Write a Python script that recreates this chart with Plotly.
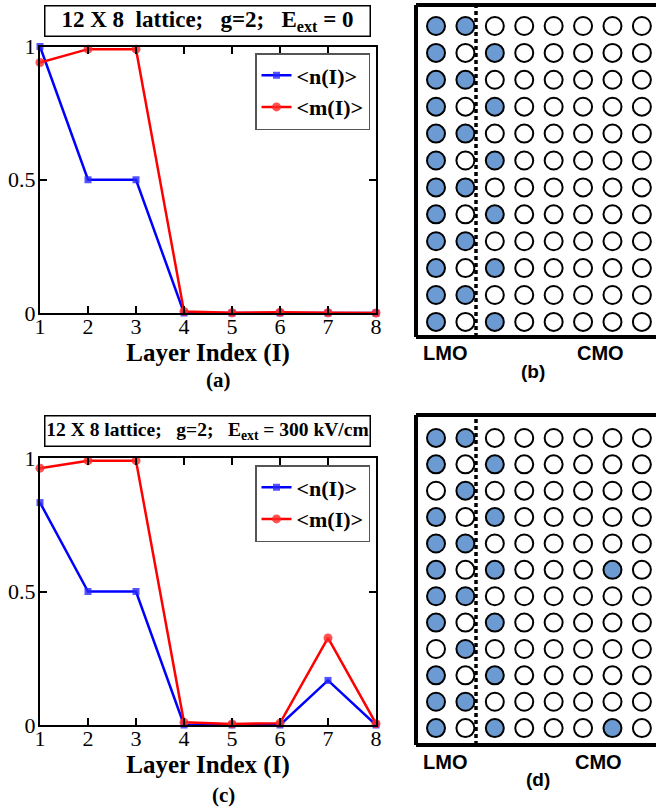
import plotly.graph_objects as go

# ---------------- data ----------------
layer_index = [1, 2, 3, 4, 5, 6, 7, 8]
n_a = [1.0, 0.5, 0.5, 0.0, 0.0, 0.0, 0.0, 0.0]
m_a = [0.94, 0.99, 0.99, 0.006, 0.001, 0.003, 0.001, 0.0]
n_c = [0.833, 0.5, 0.5, 0.0, 0.0, 0.0, 0.167, 0.0]
m_c = [0.962, 0.99, 0.99, 0.01, 0.004, 0.007, 0.326, 0.005]

# lattice occupancy (rows top->bottom, 8 columns; 1 = filled)
lattice_b = [
    "11000000", "10100000", "11000000", "10100000",
    "11000000", "10100000", "11000000", "10100000",
    "11000000", "10100000", "11000000", "10100000",
]
lattice_d = [
    "11000000", "10100000", "01000000", "10100000",
    "11000000", "10100010", "11000000", "10100000",
    "01000000", "10100000", "11000000", "10100010",
]

W, H = 656, 810
SERIF = "Liberation Serif, Times New Roman, serif"
SANS = "Liberation Sans, Arial, sans-serif"
FILL = "#6b9bd2"


def px(x):
    return x / W


def py(y):
    return 1 - y / H


fig = go.Figure()

# ---------------- line plots ----------------
for (n, m, xa, ya, leg) in [(n_a, m_a, "x", "y", "legend"), (n_c, m_c, "x2", "y2", "legend2")]:
    fig.add_trace(go.Scatter(
        x=layer_index, y=n, xaxis=xa, yaxis=ya, mode="lines+markers",
        name="<b>&lt;n(I)&gt;</b>", legend=leg, cliponaxis=False,
        line=dict(color="#0000ff", width=2.5),
        marker=dict(symbol="square", size=7, color="rgba(40,40,255,0.8)"),
    ))
    fig.add_trace(go.Scatter(
        x=layer_index, y=m, xaxis=xa, yaxis=ya, mode="lines+markers",
        name="<b>&lt;m(I)&gt;</b>", legend=leg, cliponaxis=False,
        line=dict(color="#ff0000", width=2.5),
        marker=dict(symbol="circle", size=9, color="rgba(255,40,40,0.8)"),
    ))

# ---------------- lattices ----------------
for grid, xa, ya in [(lattice_b, "x3", "y3"), (lattice_d, "x4", "y4")]:
    xs, ys, cs = [], [], []
    for r, row in enumerate(grid):
        for c, v in enumerate(row):
            xs.append(c + 1)
            ys.append(r + 1)
            cs.append(FILL if v == "1" else "white")
    fig.add_trace(go.Scatter(
        x=xs, y=ys, xaxis=xa, yaxis=ya, mode="markers", showlegend=False,
        cliponaxis=False, hoverinfo="skip",
        marker=dict(symbol="circle", size=18, color=cs,
                    line=dict(color="black", width=2)),
    ))

axis_common = dict(
    showgrid=False, zeroline=False, showline=True, linecolor="black",
    linewidth=2, mirror="ticks", ticks="inside", tickcolor="black",
    ticklen=7, tickwidth=2, automargin=False,
    tickfont=dict(family=SERIF, size=22, color="black"),
)

title_x = dict(text="Layer Index (I)", font=dict(family=SERIF, size=25, color="black", weight="bold"), standoff=0)

legend_common = dict(xanchor="left", yanchor="top", bgcolor="white", bordercolor="#555",
                     borderwidth=1.5, font=dict(family=SERIF, size=22, color="black"),
                     itemwidth=30, tracegroupgap=0)

fig.update_layout(
    width=W, height=H, margin=dict(l=0, r=0, t=0, b=0, pad=0, autoexpand=False), autosize=False,
    paper_bgcolor="white", plot_bgcolor="white",
    xaxis=dict(domain=[px(40), px(376)], range=[1, 8], tickvals=layer_index, anchor="y",
               title=title_x, ticklabelstandoff=-7, **axis_common),
    yaxis=dict(domain=[py(313), py(46.5)], range=[0, 1], tickvals=[0, 0.5, 1],
               ticktext=["0", "0.5", "1"], anchor="x", ticklabelstandoff=-2, **axis_common),
    xaxis2=dict(domain=[px(40), px(376)], range=[1, 8], tickvals=layer_index, anchor="y2",
                title=title_x, ticklabelstandoff=-7, **axis_common),
    yaxis2=dict(domain=[py(725), py(458)], range=[0, 1], tickvals=[0, 0.5, 1],
                ticktext=["0", "0.5", "1"], anchor="x2", ticklabelstandoff=-2, **axis_common),
    xaxis3=dict(domain=[px(416), 1], range=[0.32, 8.48], visible=False, anchor="y3"),
    yaxis3=dict(domain=[py(337), py(5)], range=[12.56, 0.22], visible=False, anchor="x3"),
    xaxis4=dict(domain=[px(416), 1], range=[0.32, 8.48], visible=False, anchor="y4"),
    yaxis4=dict(domain=[py(745), py(415)], range=[12.64, 0.13], visible=False, anchor="x4"),
    legend=dict(x=px(255), y=py(53), **legend_common),
    legend2=dict(x=px(255), y=py(465), **legend_common),
)

NB = "\u00a0"
ann = []
ann.append(dict(text=f"<b>12 X 8{NB}{NB}lattice;{NB}{NB}{NB}g=2;{NB}{NB}{NB}E<sub>ext</sub>{NB}= 0</b>",
                x=px(207), y=py(20.5), xref="paper", yref="paper", showarrow=False,
                xanchor="center", yanchor="middle",
                font=dict(family=SERIF, size=23, color="black"),
                bordercolor="black", borderwidth=1.5, borderpad=0, width=324, height=29,
                bgcolor="white"))
ann.append(dict(text=f"<b>12 X 8 lattice;{NB}{NB}{NB}g=2;{NB}{NB}{NB}E<sub>ext</sub>{NB}= 300 kV/cm</b>",
                x=px(207), y=py(431.5), xref="paper", yref="paper", showarrow=False,
                xanchor="center", yanchor="middle",
                font=dict(family=SERIF, size=19.5, color="black"),
                bordercolor="black", borderwidth=1.5, borderpad=0, width=324, height=29,
                bgcolor="white"))
for t, x, y in [("(a)", 218, 380), ("(c)", 223, 795)]:
    ann.append(dict(text=f"<b>{t}</b>", x=px(x), y=py(y), xref="paper", yref="paper", showarrow=False,
                    xanchor="center", yanchor="middle",
                    font=dict(family=SERIF, size=21, color="black")))
for t, x, y, s in [("LMO", 445, 353, 20), ("CMO", 600, 353, 20), ("(b)", 533, 371, 19),
                   ("LMO", 445, 762, 20), ("CMO", 598, 762, 20), ("(d)", 538, 779, 19)]:
    ann.append(dict(text=f"<b>{t}</b>", x=px(x), y=py(y), xref="paper", yref="paper", showarrow=False,
                    xanchor="center", yanchor="middle",
                    font=dict(family=SANS, size=s, color="black")))
fig.update_layout(annotations=ann)

shapes = []
for xa, ya in [("x3", "y3"), ("x4", "y4")]:
    xd, yd = f"{xa} domain", f"{ya} domain"
    shapes.append(dict(type="line", xref=xd, yref=yd, x0=0, x1=0, y0=0, y1=1,
                       line=dict(color="black", width=4)))
    shapes.append(dict(type="line", xref=xd, yref=yd, x0=0, x1=1, y0=1, y1=1,
                       line=dict(color="black", width=4)))
    shapes.append(dict(type="line", xref=xd, yref=yd, x0=0, x1=1, y0=0, y1=0,
                       line=dict(color="black", width=4)))
    shapes.append(dict(type="line", xref=xa, yref=yd, x0=2.36, x1=2.36, y0=0, y1=1,
                       line=dict(color="black", width=3.5, dash="4px,3px")))
fig.update_layout(shapes=shapes)

fig.write_html("out.html")
